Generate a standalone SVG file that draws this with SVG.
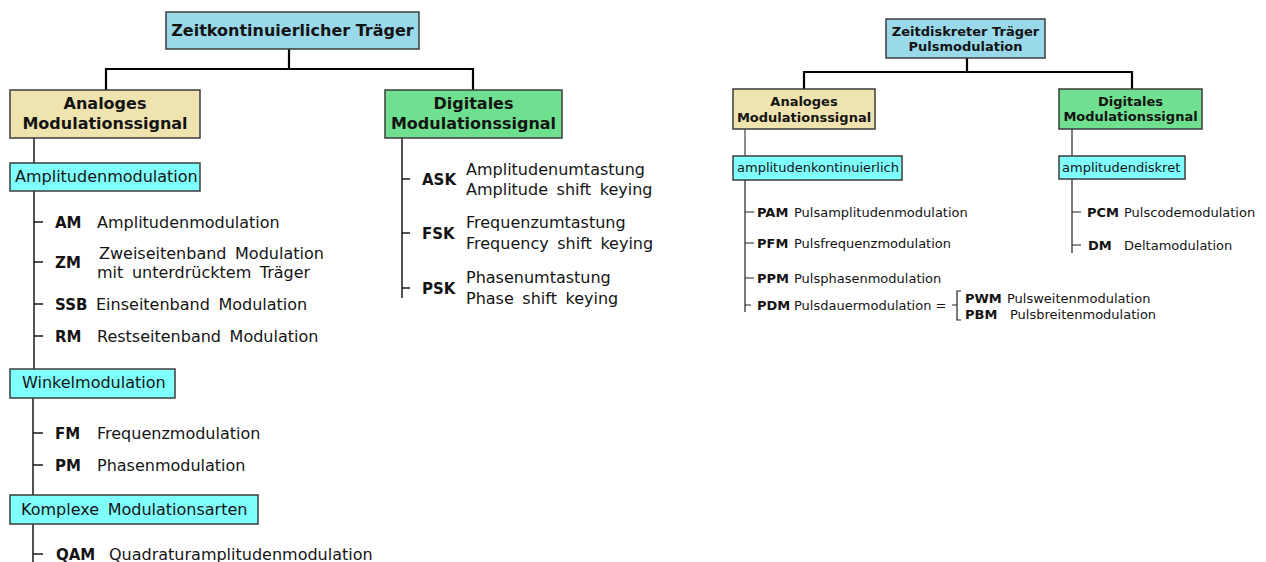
<svg xmlns="http://www.w3.org/2000/svg" width="1266" height="562" viewBox="0 0 1266 562">
<style>
text{font-family:"DejaVu Sans",Verdana,sans-serif;fill:#141414}
.t16b{font-size:16px;font-weight:bold}
.t16{font-size:16px;word-spacing:3.5px}
.a15{font-size:15px;font-weight:bold}
.t13b{font-size:13px;font-weight:bold}
.t13{font-size:13px}
.box{stroke:#3c3c3c;stroke-width:1.5}
.blue{fill:#99d9ea}
.tan{fill:#efe4b0}
.green{fill:#6fe08f}
.cyan{fill:#80ffff}
.main{fill:none;stroke:#000;stroke-width:2.2}
.sub{fill:none;stroke:#1a1a1a;stroke-width:1.5}
.subr{fill:none;stroke:#222;stroke-width:1.2}
.subg{fill:none;stroke:#666;stroke-width:1.5}
.mid{text-anchor:middle}
</style>
<g id="connectors">
<path class="main" d="M289,49 V69 M106,90 V69 H473 V90"/>
<path class="sub" d="M34,138 V163 M34,191 V369 M34,222 H43 M34,262 H43 M34,304 H43 M34,336 H43"/>
<path class="sub" d="M33,398 V495 M33,433 H43 M33,465 H43 M33,524 V562 M33,554 H43"/>
<path class="sub" d="M402,138 V298 M402,179 H410 M402,233 H410 M402,288 H410"/>
<path class="main" d="M967,58 V72 M804,89 V72 H1132 V89"/>
<path class="subg" d="M745,129 V156"/>
<path class="subr" d="M745,180 V312 M745,212 H754 M745,243 H754 M745,278 H754 M745,305 H751"/>
<path class="subr" d="M1072,129 V156 M1072,179 V253 M1072,212 H1081 M1072,245 H1081"/>
</g>
<g id="n-zeitkont">
<rect class="box blue" x="166" y="12" width="253" height="37"/>
<text class="t16b mid" x="292.5" y="36">Zeitkontinuierlicher Träger</text>
</g>
<g id="n-analog-l">
<rect class="box tan" x="10" y="90" width="190" height="48"/>
<text class="t16b mid" x="105" y="109">Analoges</text>
<text class="t16b mid" x="105" y="129">Modulationssignal</text>
</g>
<g id="n-digital-l">
<rect class="box green" x="385" y="90" width="177" height="48"/>
<text class="t16b mid" x="473.5" y="109">Digitales</text>
<text class="t16b mid" x="473.5" y="129">Modulationssignal</text>
</g>
<g id="n-am-cat">
<rect class="box cyan" x="10" y="163" width="190" height="28"/>
<text class="t16" x="15" y="182">Amplitudenmodulation</text>
</g>
<g id="n-am">
<text class="a15" x="55" y="228">AM</text>
<text class="t16" x="97" y="228">Amplitudenmodulation</text>
</g>
<g id="n-zm">
<text class="a15" x="55" y="268">ZM</text>
<text class="t16" x="99" y="259">Zweiseitenband Modulation</text>
<text class="t16" x="97" y="278">mit unterdrücktem Träger</text>
</g>
<g id="n-ssb">
<text class="a15" x="55" y="310">SSB</text>
<text class="t16" x="96" y="310">Einseitenband Modulation</text>
</g>
<g id="n-rm">
<text class="a15" x="55" y="342">RM</text>
<text class="t16" x="97" y="342">Restseitenband Modulation</text>
</g>
<g id="n-winkel">
<rect class="box cyan" x="10" y="369" width="165" height="29"/>
<text class="t16" x="22" y="388">Winkelmodulation</text>
</g>
<g id="n-fm">
<text class="a15" x="55" y="439">FM</text>
<text class="t16" x="97" y="439">Frequenzmodulation</text>
</g>
<g id="n-pm">
<text class="a15" x="55" y="471">PM</text>
<text class="t16" x="97" y="471">Phasenmodulation</text>
</g>
<g id="n-komplex">
<rect class="box cyan" x="10" y="495" width="248" height="29"/>
<text class="t16" x="21" y="515">Komplexe Modulationsarten</text>
</g>
<g id="n-qam">
<text class="a15" x="56" y="560">QAM</text>
<text class="t16" x="109" y="560">Quadraturamplitudenmodulation</text>
</g>
<g id="n-ask">
<text class="a15" x="422" y="185">ASK</text>
<text class="t16" x="466" y="175">Amplitudenumtastung</text>
<text class="t16" x="466" y="195">Amplitude shift keying</text>
</g>
<g id="n-fsk">
<text class="a15" x="422" y="239">FSK</text>
<text class="t16" x="466" y="228">Frequenzumtastung</text>
<text class="t16" x="466" y="249">Frequency shift keying</text>
</g>
<g id="n-psk">
<text class="a15" x="422" y="294">PSK</text>
<text class="t16" x="466" y="283">Phasenumtastung</text>
<text class="t16" x="466" y="304">Phase shift keying</text>
</g>
<g id="n-zeitdiskret">
<rect class="box blue" x="886" y="19" width="159" height="39"/>
<text class="t13b mid" x="965.5" y="35.5">Zeitdiskreter Träger</text>
<text class="t13b mid" x="965.5" y="50.5">Pulsmodulation</text>
</g>
<g id="n-analog-r">
<rect class="box tan" x="733" y="89" width="142" height="40"/>
<text class="t13b mid" x="804" y="105.5">Analoges</text>
<text class="t13b mid" x="804" y="121.5">Modulationssignal</text>
</g>
<g id="n-digital-r">
<rect class="box green" x="1059" y="89" width="143" height="40"/>
<text class="t13b mid" x="1130.5" y="105.5">Digitales</text>
<text class="t13b mid" x="1130.5" y="121">Modulationssignal</text>
</g>
<g id="n-ampkont">
<rect class="box cyan" x="733" y="156" width="169" height="24"/>
<text class="t13" x="737" y="171.5">amplitudenkontinuierlich</text>
</g>
<g id="n-ampdisk">
<rect class="box cyan" x="1059" y="156" width="126" height="23"/>
<text class="t13" x="1062" y="171.5">amplitudendiskret</text>
</g>
<g id="n-pam">
<text class="t13b" x="757" y="216.5">PAM</text>
<text class="t13" x="794" y="216.5">Pulsamplitudenmodulation</text>
</g>
<g id="n-pfm">
<text class="t13b" x="757" y="247.5">PFM</text>
<text class="t13" x="794" y="247.5">Pulsfrequenzmodulation</text>
</g>
<g id="n-ppm">
<text class="t13b" x="757" y="282.5">PPM</text>
<text class="t13" x="794" y="282.5">Pulsphasenmodulation</text>
</g>
<g id="n-pdm">
<text class="t13b" x="757" y="309.5">PDM</text>
<text class="t13" x="794" y="309.5">Pulsdauermodulation =</text>
<path fill="none" stroke="#222" stroke-width="1.2" d="M961,291 H957 V320 H961 M952,305 H957"/>
</g>
<g id="n-pwm">
<text class="t13b" x="965" y="302.5">PWM</text>
<text class="t13" x="1007" y="302.5">Pulsweitenmodulation</text>
</g>
<g id="n-pbm">
<text class="t13b" x="965" y="318.5">PBM</text>
<text class="t13" x="1010" y="318.5">Pulsbreitenmodulation</text>
</g>
<g id="n-pcm">
<text class="t13b" x="1087" y="216.5">PCM</text>
<text class="t13" x="1124" y="216.5">Pulscodemodulation</text>
</g>
<g id="n-dm">
<text class="t13b" x="1088" y="249.5">DM</text>
<text class="t13" x="1124" y="249.5">Deltamodulation</text>
</g>
</svg>
